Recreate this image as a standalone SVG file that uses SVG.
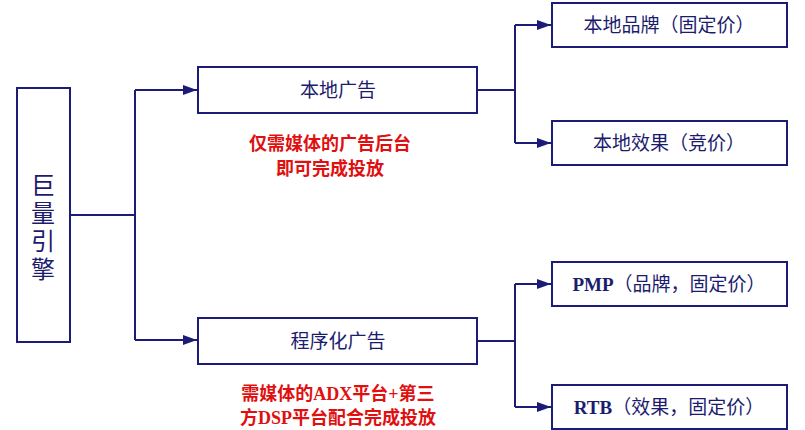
<svg xmlns="http://www.w3.org/2000/svg" width="805" height="430" viewBox="0 0 805 430">
<style>
.b{fill:#fff;stroke:#1c1c78;stroke-width:2}
.t{font-family:"Liberation Serif","Noto Sans CJK SC",serif;font-size:19px;fill:#1c1c6e;text-anchor:middle}
.r{font-family:"Liberation Serif","Noto Sans CJK SC",serif;font-size:18px;fill:#e01010;text-anchor:middle;font-weight:bold}
.c{fill:none;stroke:#1c1c78;stroke-width:2}
</style>
<defs><marker id="a" markerWidth="14" markerHeight="10" refX="14" refY="5" orient="auto" markerUnits="userSpaceOnUse"><path d="M0,0L14,5L0,10z" fill="#1c1c78"/></marker></defs>
<rect width="805" height="430" fill="#fff"/>
<g id="connectors">
<path class="c" d="M70,215H135"/>
<path class="c" d="M135,90V340M135,90H197" marker-end="url(#a)"/>
<path class="c" d="M135,340H197" marker-end="url(#a)"/>
<path class="c" d="M477,90H515M515,25V143"/>
<path class="c" d="M515,25H551" marker-end="url(#a)"/>
<path class="c" d="M515,143H551" marker-end="url(#a)"/>
<path class="c" d="M477,341H515M515,284V407"/>
<path class="c" d="M515,284H551" marker-end="url(#a)"/>
<path class="c" d="M515,407H551" marker-end="url(#a)"/>
</g>
<g id="root"><rect class="b" x="17" y="88" width="53" height="254"/>
<text class="t" style="font-size:24px" x="43"><tspan x="43" y="194">巨</tspan><tspan x="43" y="222">量</tspan><tspan x="43" y="250">引</tspan><tspan x="43" y="278">擎</tspan></text></g>
<g id="local"><rect class="b" x="198" y="67" width="279" height="46"/><text class="t" x="338" y="97">本地广告</text></g>
<g id="prog"><rect class="b" x="198" y="318" width="279" height="46"/><text class="t" x="338" y="348">程序化广告</text></g>
<g id="n1"><rect class="b" x="552" y="3" width="235" height="44"/><text class="t" x="669" y="32">本地品牌（固定价）</text></g>
<g id="n2"><rect class="b" x="552" y="121" width="235" height="44"/><text class="t" x="669" y="150">本地效果（竞价）</text></g>
<g id="n3"><rect class="b" x="552" y="262" width="235" height="44"/><text class="t" x="669" y="291"><tspan font-weight="bold">PMP</tspan>（品牌，固定价）</text></g>
<g id="n4"><rect class="b" x="552" y="385" width="235" height="44"/><text class="t" x="669" y="414"><tspan font-weight="bold">RTB</tspan>（效果，固定价）</text></g>
<text class="r" x="330" y="150">仅需媒体的广告后台</text>
<text class="r" x="330" y="175">即可完成投放</text>
<text class="r" x="338" y="400">需媒体的ADX平台+第三</text>
<text class="r" x="338" y="424">方DSP平台配合完成投放</text>
</svg>
